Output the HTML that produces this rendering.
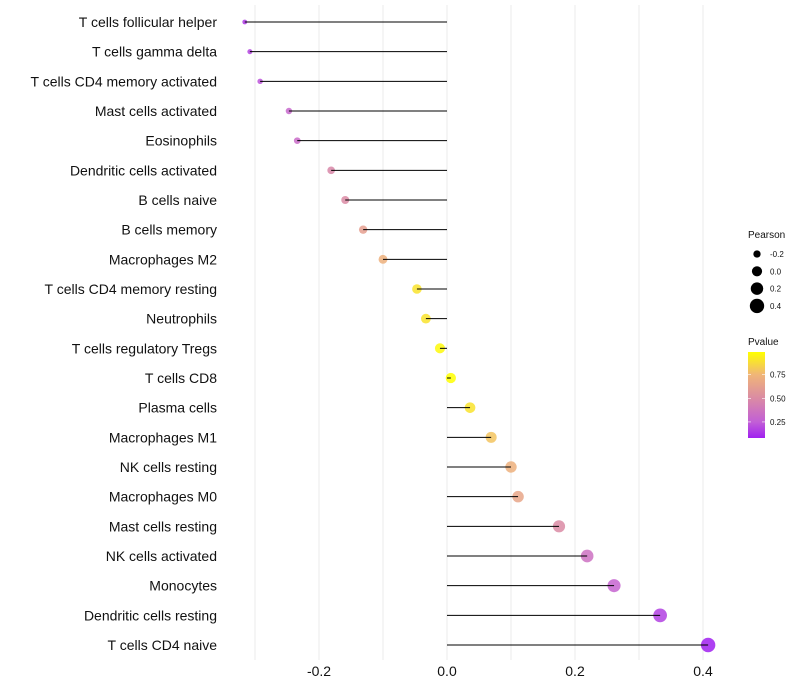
<!DOCTYPE html>
<html><head><meta charset="utf-8"><style>
body{margin:0;background:#fff;font-family:"Liberation Sans",Arial,sans-serif;}
svg{display:block}
</style></head><body>
<svg id="chart" width="800" height="700"></svg>
<script>
const categories=["T cells follicular helper","T cells gamma delta","T cells CD4 memory activated","Mast cells activated","Eosinophils","Dendritic cells activated","B cells naive","B cells memory","Macrophages M2","T cells CD4 memory resting","Neutrophils","T cells regulatory  Tregs ","T cells CD8","Plasma cells","Macrophages M1","NK cells resting","Macrophages M0","Mast cells resting","NK cells activated","Monocytes","Dendritic cells resting","T cells CD4 naive"];
const pearson=[-0.316,-0.308,-0.292,-0.247,-0.234,-0.181,-0.159,-0.131,-0.100,-0.047,-0.033,-0.011,0.006,0.036,0.069,0.100,0.111,0.175,0.219,0.261,0.333,0.408];
const pvalue=[0.15,0.18,0.22,0.3,0.32,0.48,0.5,0.62,0.72,0.9,0.9,0.97,0.99,0.9,0.8,0.72,0.66,0.5,0.35,0.28,0.17,0.08];
const xTicks=[-0.2,0,0.2,0.4];
const xTickLabels=["-0.2","0.0","0.2","0.4"];
const xMinor=[-0.3,-0.1,0.1,0.3];
const sizeLegend=[-0.2,0.0,0.2,0.4];
const sizeLegendLabels=["-0.2","0.0","0.2","0.4"];
const pLegend=[0.25,0.5,0.75];

const NS="http://www.w3.org/2000/svg";
const svg=document.getElementById('chart');
function mk(t,a,p){const e=document.createElementNS(NS,t);for(const k in a)e.setAttribute(k,a[k]);(p||svg).appendChild(e);return e;}
const x=v=>447+v*640;
const y=i=>22+i*(623/21);
const pr=[-0.33,0.408];
const r=v=>Math.sqrt(5+47*Math.max(0,(v-pr[0])/(pr[1]-pr[0])));
const pMin=0.08,pMax=0.99;
const cs=[[0.08,[160,32,240]],[0.25,[194,95,214]],[0.5,[218,139,164]],[0.75,[240,181,120]],[0.99,[255,255,0]]];
function col(p){p=Math.max(pMin,Math.min(pMax,p));
 for(let i=0;i<cs.length-1;i++){const [a,ca]=cs[i],[b,cb]=cs[i+1];
  if(p<=b){const t=(p-a)/(b-a);return `rgb(${ca.map((c,k)=>Math.round(c+(cb[k]-c)*t)).join(',')})`;}}
 return 'rgb(255,255,0)';}

const grid=mk('g',{});


xTicks.concat(xMinor).forEach(v=>{mk('line',{x1:x(v),x2:x(v),y1:5,y2:660,stroke:'#ebebeb','stroke-width':1},grid);});

categories.forEach((c,i)=>{
 const t=mk('text',{x:217,y:y(i)+5,'text-anchor':'end','font-size':14,fill:'#111'});
 t.textContent=c;
 
 
 const pt=mk('circle',{cx:x(pearson[i]),cy:y(i),r:r(pearson[i]),fill:col(pvalue[i]),opacity:0.85});
 
 
 const ln=mk('line',{x1:x(0),x2:x(pearson[i]),y1:y(i),y2:y(i),stroke:'#000','stroke-width':1});
 
 
});
xTicks.forEach((v,i)=>{
 const t=mk('text',{x:x(v),y:676,'text-anchor':'middle','font-size':14,fill:'#111'});
 t.textContent=xTickLabels[i];
 
 
});
const lg=mk('g',{});


const lt=mk('text',{x:748,y:238,'font-size':10,fill:'#111'},lg);lt.textContent='Pearson';
sizeLegend.forEach((v,i)=>{
 const cy=254+i*17.3;
 mk('circle',{cx:757,cy:cy,r:r(v),fill:'#000'},lg);
 const t=mk('text',{x:770,y:cy+3,'font-size':8,fill:'#111'},lg);t.textContent=sizeLegendLabels[i];
});
const cg=mk('g',{});


const ct=mk('text',{x:748,y:345,'font-size':10,fill:'#111'},cg);ct.textContent='Pvalue';
const defs=mk('defs',{});
const gr=mk('linearGradient',{id:'pg',x1:0,y1:1,x2:0,y2:0},defs);
cs.forEach(s=>mk('stop',{offset:(s[0]-pMin)/(pMax-pMin),'stop-color':`rgb(${s[1].join(',')})`},gr));
const by=v=>438-(v-pMin)/(pMax-pMin)*86;
mk('rect',{x:748,y:by(pMax),width:17,height:86,fill:'url(#pg)'},cg);
pLegend.forEach(v=>{
 mk('line',{x1:748,x2:751,y1:by(v),y2:by(v),stroke:'#fff','stroke-width':0.6},cg);
 mk('line',{x1:762,x2:765,y1:by(v),y2:by(v),stroke:'#fff','stroke-width':0.6},cg);
 const t=mk('text',{x:770,y:by(v)+3,'font-size':8,fill:'#111'},cg);t.textContent=v.toFixed(2);
});
</script>
</body></html>
